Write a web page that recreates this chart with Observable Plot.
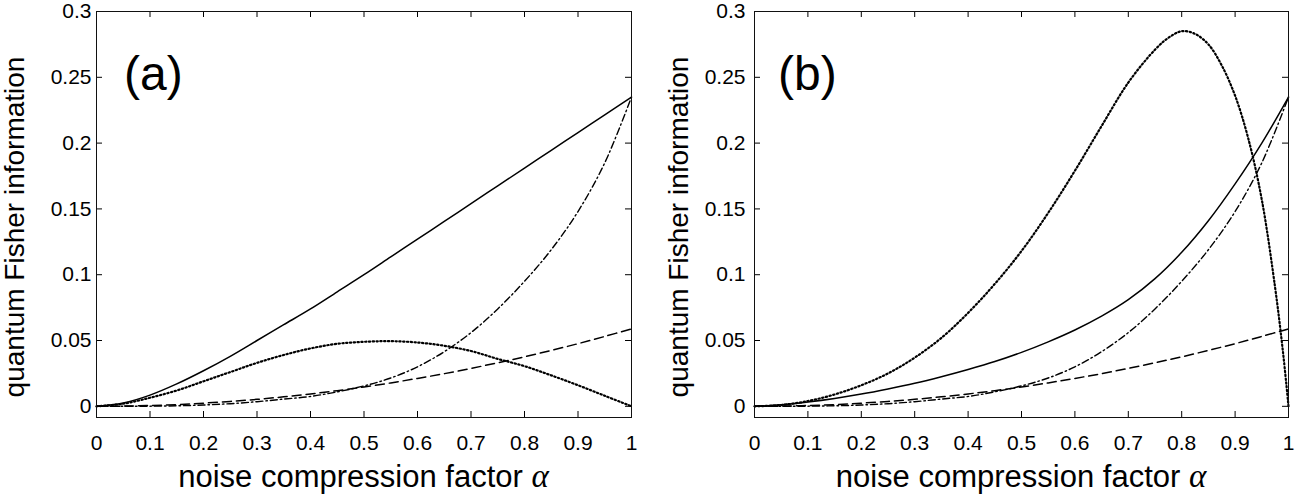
<!DOCTYPE html>
<html><head><meta charset="utf-8">
<script src="https://cdn.jsdelivr.net/npm/d3@7"></script>
<script src="https://cdn.jsdelivr.net/npm/@observablehq/plot@0.6"></script>
<style>
body{margin:0;background:#fff;}
#wrap{display:flex;width:1308px;height:501px;background:#fff;}
#wrap svg{flex:none;}
</style></head><body><div id="wrap"></div>
<script>
// ---- data ----
const alpha = [0,0.05,0.1,0.15,0.2,0.25,0.3,0.35,0.4,0.45,0.5,0.55,0.6,0.65,0.7,0.75,0.8,0.85,0.9,0.95,1];

// panel (a)
const solidA   = [0,0.0025,0.0085,0.017,0.027,0.038,0.050,0.062,0.074,0.087,0.100,0.1135,0.127,0.1405,0.154,0.1675,0.181,0.1945,0.208,0.2215,0.235];
const dottedA  = [0,0.002,0.0065,0.012,0.019,0.026,0.033,0.039,0.044,0.0475,0.049,0.0495,0.0485,0.046,0.042,0.036,0.0305,0.0235,0.016,0.008,0];
const dashdotA = [0,0,0.0001,0.0004,0.001,0.002,0.0035,0.0055,0.0075,0.011,0.0155,0.0215,0.030,0.0415,0.056,0.074,0.095,0.119,0.148,0.185,0.235];
const dashedA  = [0,0.00015,0.0006,0.0013,0.0024,0.0037,0.0053,0.0072,0.0094,0.0119,0.0147,0.0178,0.0212,0.0248,0.0288,0.0331,0.0376,0.0425,0.0476,0.0531,0.0588];

// panel (b)
const solidB   = [0,0.0012,0.0033,0.006,0.0093,0.0132,0.0175,0.0225,0.028,0.034,0.041,0.049,0.058,0.0685,0.081,0.097,0.117,0.141,0.169,0.200,0.235];
const alphaDottedB = [0,0.05,0.1,0.15,0.2,0.25,0.3,0.35,0.4,0.45,0.5,0.55,0.6,0.65,0.7,0.75,0.775,0.8,0.825,0.85,0.875,0.9,0.925,0.95,0.975,0.99,1];
const dottedB  = [0,0.001,0.004,0.009,0.016,0.025,0.037,0.052,0.071,0.093,0.118,0.147,0.179,0.213,0.246,0.271,0.280,0.285,0.283,0.275,0.259,0.236,0.203,0.157,0.090,0.040,0];
const dashdotB = [0,0,0.0001,0.0004,0.001,0.002,0.0035,0.0055,0.0075,0.011,0.0155,0.0215,0.030,0.0415,0.056,0.074,0.095,0.119,0.148,0.185,0.235];
const dashedB  = [0,0.00015,0.0006,0.0013,0.0024,0.0037,0.0053,0.0072,0.0094,0.0119,0.0147,0.0178,0.0212,0.0248,0.0288,0.0331,0.0376,0.0425,0.0476,0.0531,0.0588];

// ticks & labels
const xTicks = [0,0.1,0.2,0.3,0.4,0.5,0.6,0.7,0.8,0.9,1];
const xTickLabels = ["0","0.1","0.2","0.3","0.4","0.5","0.6","0.7","0.8","0.9","1"];
const yTicks = [0,0.05,0.1,0.15,0.2,0.25,0.3];
const yTickLabels = ["0","0.05","0.1","0.15","0.2","0.25","0.3"];
const xDomain = [0,1];
const yDomain = [-0.0085,0.3];
const panelLabels = ["(a)","(b)"];
const xTitle = "noise compression factor ";
const xTitleSymbol = "α";
const yTitle = "quantum Fisher information";

const FONT = 'Liberation Sans, Arial, Helvetica, sans-serif';
const toRows = (xs, ys) => xs.map((a, i) => ({a, v: ys[i]}));

function panel({label, series, ml, mr, ypad, yTitleX, labelDx}) {
  const W = 654, H = 501, mt = 11, mb = 84;
  const styles = {
    solid:   {strokeWidth: 1.5},
    dotted:  {strokeWidth: 2.2, strokeDasharray: "1.3,2.5"},
    dashdot: {strokeWidth: 1.4, strokeDasharray: "7,3,1.5,3"},
    dashed:  {strokeWidth: 1.5, strokeDasharray: "9,5"}
  };
  const lines = series.map(s => Plot.line(toRows(s.x, s.y), {
    x: "a", y: "v", stroke: "#000", curve: "catmull-rom", ...styles[s.style]
  }));
  const node = Plot.plot({
    width: W, height: H,
    marginLeft: ml, marginRight: mr, marginTop: mt, marginBottom: mb,
    style: {fontFamily: FONT, color: "#000", background: "#fff", overflow: "visible"},
    x: {domain: xDomain, axis: null},
    y: {domain: yDomain, axis: null},
    marks: [
      ...lines,
      Plot.ruleX(xTicks, {x: d => d, y1: yDomain[0], y2: yDomain[0], insetTop: -6, stroke: "#000"}),
      Plot.ruleX(xTicks, {x: d => d, y1: yDomain[1], y2: yDomain[1], insetBottom: -6, stroke: "#000"}),
      Plot.ruleY(yTicks, {y: d => d, x1: xDomain[0], x2: xDomain[0], insetRight: -6, stroke: "#000"}),
      Plot.ruleY(yTicks, {y: d => d, x1: xDomain[1], x2: xDomain[1], insetLeft: -6, stroke: "#000"}),
      Plot.frame({stroke: "#111", strokeWidth: 1}),
      Plot.text(xTicks, {x: d => d, y: yDomain[0], text: (d, i) => xTickLabels[i],
        dy: 26, fontSize: 21, fontFamily: FONT, fill: "#000", textAnchor: "middle", lineAnchor: "middle"}),
      Plot.text(yTicks, {x: xDomain[0], y: d => d, text: (d, i) => yTickLabels[i],
        dx: -ypad, fontSize: 21, fontFamily: FONT, fill: "#000", textAnchor: "end", lineAnchor: "middle"})
    ]
  });
  const svg = d3.select(node);
  const cx = ml + (W - ml - mr) / 2;
  const xt = svg.append("text")
    .attr("x", cx).attr("y", 487)
    .attr("text-anchor", "middle")
    .attr("font-family", FONT).attr("font-size", 31).attr("fill", "#000")
    .text(xTitle);
  xt.append("tspan").attr("font-family", 'Liberation Serif, DejaVu Serif, serif')
    .attr("font-style", "italic").attr("font-size", 33).text(xTitleSymbol);
  svg.append("text")
    .attr("transform", `translate(${yTitleX},227) rotate(-90)`)
    .attr("text-anchor", "middle")
    .attr("font-family", FONT).attr("font-size", 28).attr("fill", "#000")
    .text(yTitle);
  svg.append("text")
    .attr("x", ml + labelDx).attr("y", 90)
    .attr("text-anchor", "start")
    .attr("font-family", FONT).attr("font-size", 48).attr("fill", "#000")
    .text(label);
  return node;
}

const wrap = document.getElementById("wrap");
wrap.appendChild(panel({
  label: panelLabels[0], ml: 96, mr: 23, ypad: 5, yTitleX: 24, labelDx: 28,
  series: [
    {x: alpha, y: solidA, style: "solid"},
    {x: alpha, y: dottedA, style: "dotted"},
    {x: alpha, y: dashdotA, style: "dashdot"},
    {x: alpha, y: dashedA, style: "dashed"}
  ]
}));
wrap.appendChild(panel({
  label: panelLabels[1], ml: 100, mr: 20, ypad: 9, yTitleX: 34, labelDx: 24,
  series: [
    {x: alpha, y: solidB, style: "solid"},
    {x: alphaDottedB, y: dottedB, style: "dotted"},
    {x: alpha, y: dashdotB, style: "dashdot"},
    {x: alpha, y: dashedB, style: "dashed"}
  ]
}));
</script></body></html>
